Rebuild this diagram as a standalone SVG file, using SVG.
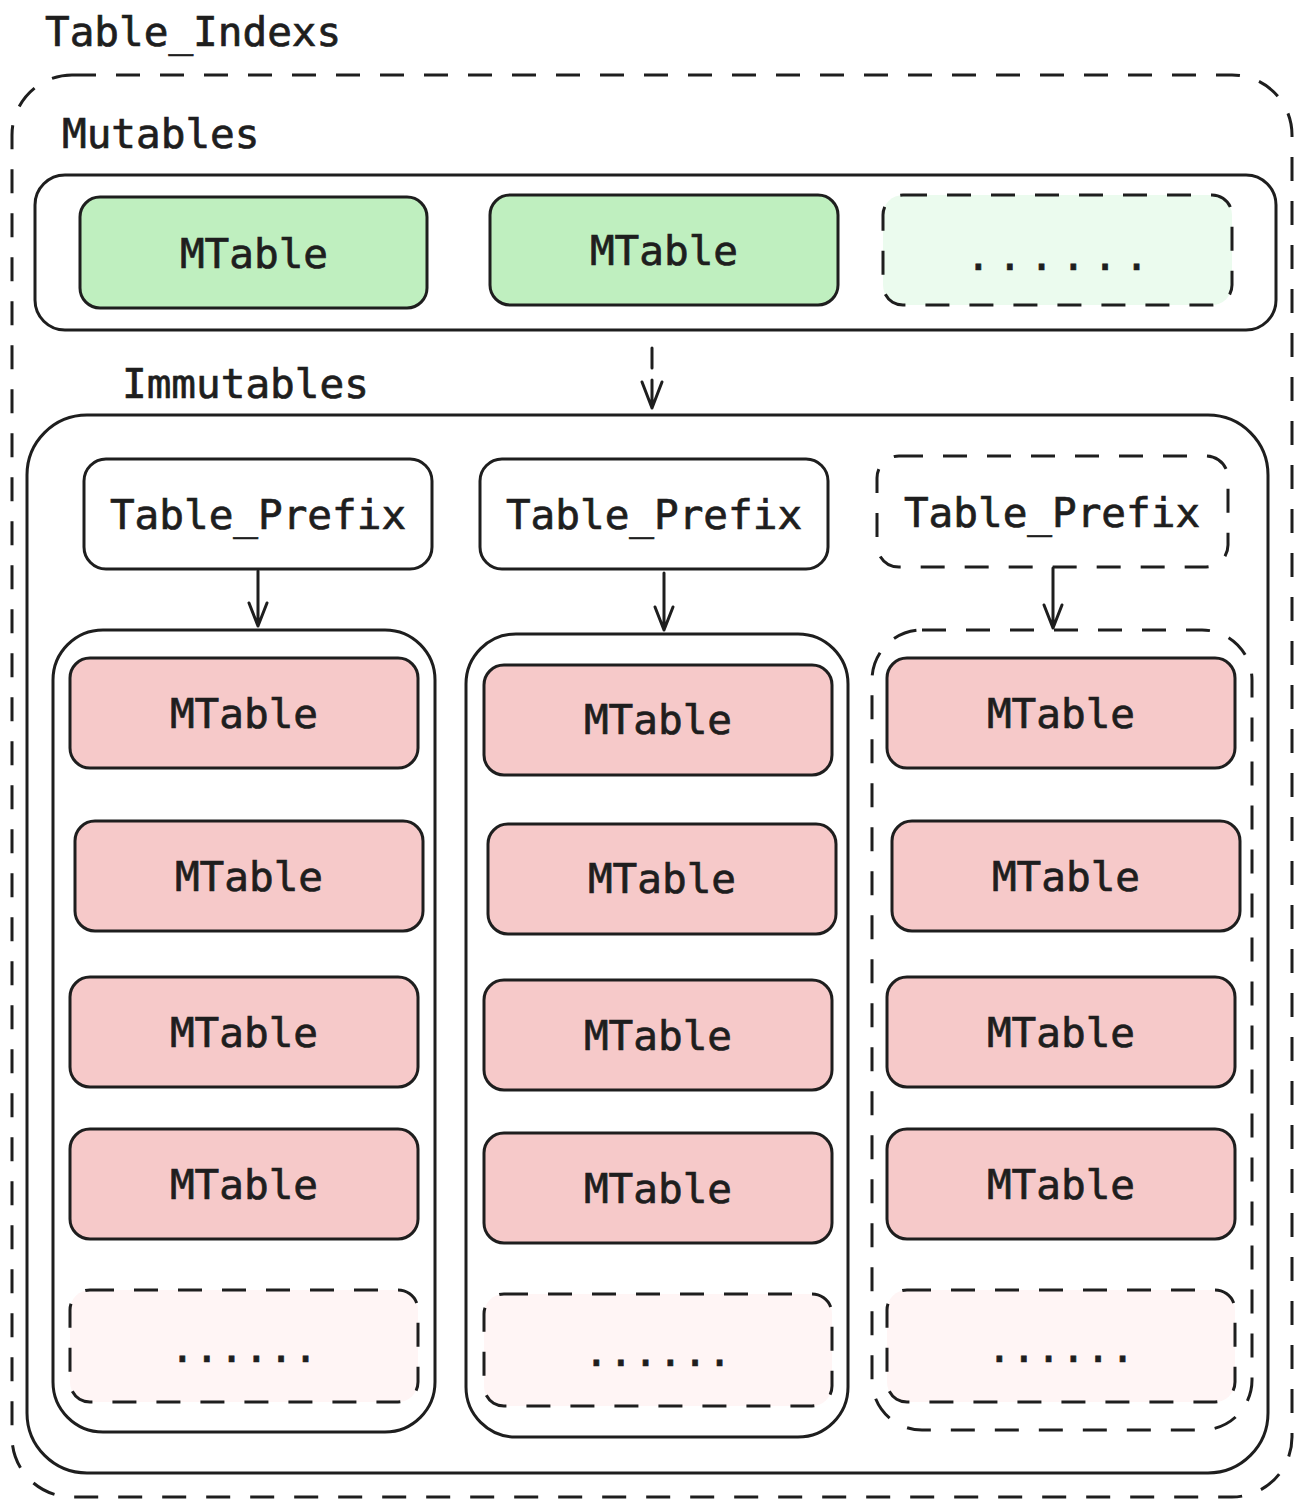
<svg xmlns="http://www.w3.org/2000/svg" width="1310" height="1510" viewBox="0 0 1310 1510">
<defs>
<style>
.b{fill:none;stroke:#1e1e1e;stroke-width:3;}
.w{fill:#ffffff;stroke:#1e1e1e;stroke-width:3;}
.d{stroke-dasharray:24 20;}
.g{fill:#bfefbf;stroke:#1e1e1e;stroke-width:3;}
.gl{fill:#ebfbee;stroke:#1e1e1e;stroke-width:3;}
.p{fill:#f6c9c9;stroke:#1e1e1e;stroke-width:3;}
.pl{fill:#fff5f5;stroke:#1e1e1e;stroke-width:3;}
text{font-family:"DejaVu Sans Mono","Liberation Mono",monospace;font-size:41px;fill:#1e1e1e;stroke:#1e1e1e;stroke-width:0.7;}
.c{text-anchor:middle;}
.a{fill:none;stroke:#1e1e1e;stroke-width:3;stroke-linecap:round;stroke-linejoin:round;}
</style>
</defs>
<rect width="1310" height="1510" fill="#ffffff"/>
<g id="table_indexs">
<rect class="b d" x="12" y="75" width="1280" height="1422" rx="60"/>
<text x="45" y="46">Table_Indexs</text>
</g>
<g id="mutables">
<text x="62" y="148">Mutables</text>
<rect class="w" x="35" y="175" width="1241" height="155" rx="30"/>
</g>
<g id="m1"><rect class="g" x="80" y="197" width="347" height="111" rx="20"/><text class="c" x="254" y="268">MTable</text></g>
<g id="m2"><rect class="g" x="490" y="195" width="348" height="110" rx="20"/><text class="c" x="664" y="265">MTable</text></g>
<g id="m3"><rect class="gl d" x="883" y="195" width="349" height="110" rx="20"/><text class="c" x="1061" y="270" letter-spacing="7">......</text></g>
<g id="immutables">
<text x="122" y="398">Immutables</text>
<rect class="w" x="27" y="415" width="1241" height="1058" rx="60"/>
</g>
<g id="tp1"><rect class="w" x="84" y="459" width="348" height="110" rx="22"/><text class="c" x="258" y="529">Table_Prefix</text></g>
<g id="tp2"><rect class="w" x="480" y="459" width="348" height="110" rx="22"/><text class="c" x="654" y="529">Table_Prefix</text></g>
<g id="tp3"><rect class="w d" x="877" y="456" width="351" height="111" rx="22"/><text class="c" x="1052" y="527">Table_Prefix</text></g>
<g id="col1"><rect class="w" x="53" y="630" width="382" height="802" rx="50"/></g>
<g id="col2"><rect class="w" x="466" y="634" width="382" height="803" rx="50"/></g>
<g id="col3"><rect class="w d" x="872" y="630" width="380" height="800" rx="50"/></g>
<g id="c1r1"><rect class="p" x="70" y="658" width="348" height="110" rx="20"/><text class="c" x="244" y="728">MTable</text></g>
<g id="c1r2"><rect class="p" x="75" y="821" width="348" height="110" rx="20"/><text class="c" x="249" y="891">MTable</text></g>
<g id="c1r3"><rect class="p" x="70" y="977" width="348" height="110" rx="20"/><text class="c" x="244" y="1047">MTable</text></g>
<g id="c1r4"><rect class="p" x="70" y="1129" width="348" height="110" rx="20"/><text class="c" x="244" y="1199">MTable</text></g>
<g id="c1r5"><rect class="pl d" x="70" y="1290" width="348" height="112" rx="20"/><text class="c" x="244" y="1362">......</text></g>
<g id="c2r1"><rect class="p" x="484" y="665" width="348" height="110" rx="20"/><text class="c" x="658" y="734">MTable</text></g>
<g id="c2r2"><rect class="p" x="488" y="824" width="348" height="110" rx="20"/><text class="c" x="662" y="893">MTable</text></g>
<g id="c2r3"><rect class="p" x="484" y="980" width="348" height="110" rx="20"/><text class="c" x="658" y="1050">MTable</text></g>
<g id="c2r4"><rect class="p" x="484" y="1133" width="348" height="110" rx="20"/><text class="c" x="658" y="1203">MTable</text></g>
<g id="c2r5"><rect class="pl d" x="484" y="1294" width="348" height="112" rx="20"/><text class="c" x="658" y="1366">......</text></g>
<g id="c3r1"><rect class="p" x="887" y="658" width="348" height="110" rx="20"/><text class="c" x="1061" y="728">MTable</text></g>
<g id="c3r2"><rect class="p" x="892" y="821" width="348" height="110" rx="20"/><text class="c" x="1066" y="891">MTable</text></g>
<g id="c3r3"><rect class="p" x="887" y="977" width="348" height="110" rx="20"/><text class="c" x="1061" y="1047">MTable</text></g>
<g id="c3r4"><rect class="p" x="887" y="1129" width="348" height="110" rx="20"/><text class="c" x="1061" y="1199">MTable</text></g>
<g id="c3r5"><rect class="pl d" x="887" y="1290" width="348" height="112" rx="20"/><text class="c" x="1061" y="1362">......</text></g>
<g id="connectors">
<path class="a" d="M652 348 V368 M652 380 V408 M642 382 L652 408 L662 382"/>
<path class="a" d="M258 571 V626 M249 603 L258 626 L267 603"/>
<path class="a" d="M664 573 V630 M655 607 L664 630 L673 607"/>
<path class="a" d="M1053 568 V628 M1044 605 L1053 628 L1062 605"/>
</g>
</svg>
